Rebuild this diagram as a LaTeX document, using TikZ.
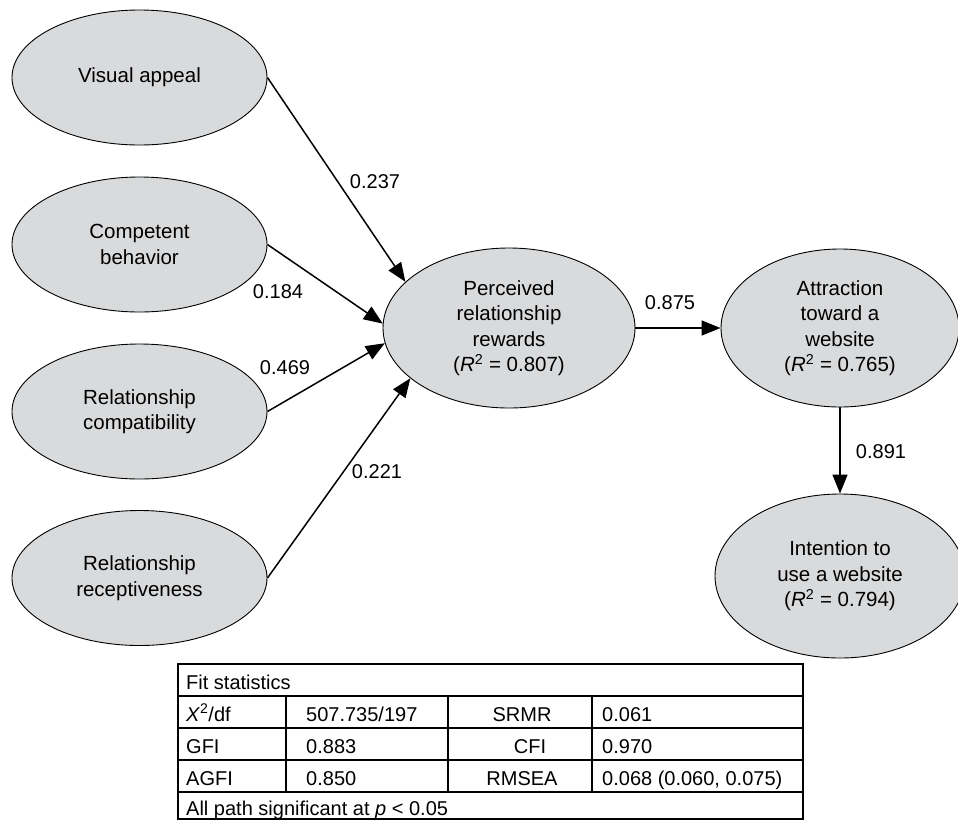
\documentclass[tikz,border=0pt]{standalone}
\usepackage{fontspec}
\setmainfont{Liberation Sans}
\usetikzlibrary{shapes.geometric,arrows.meta}
\definecolor{ellfill}{RGB}{217,218,220}
\begin{document}
\begin{tikzpicture}[x=1pt,y=-1pt,
  lat/.style={ellipse, draw=black, line width=0.9pt, fill=ellfill, inner sep=0pt, align=center,
    font=\fontsize{20.5}{25.5}\selectfont},
  arr/.style={line width=1.5pt, -{Triangle[length=19pt,width=15pt]}},
  lbl/.style={font=\fontsize{20}{25}\selectfont, inner sep=0pt},
  cell/.style={font=\fontsize{20}{23}\selectfont, inner sep=0pt, anchor=base west},
  cellc/.style={font=\fontsize{20}{23}\selectfont, inner sep=0pt, anchor=base},
  tline/.style={line width=1.8pt}
  ]
\useasboundingbox (0,0) rectangle (958,820);

% latent variables
\node[lat, minimum width=255pt, minimum height=135pt] (va) at (139.5,77.5) {Visual appeal};
\node[lat, minimum width=255pt, minimum height=135pt] (cb) at (139.5,244.5) {Competent\\behavior};
\node[lat, minimum width=255pt, minimum height=135pt] (rc) at (139.5,411.5) {Relationship\\compatibility};
\node[lat, minimum width=255pt, minimum height=135pt] (rr) at (139.5,578) {Relationship\\receptiveness};
\node[lat, minimum width=252pt, minimum height=160pt] (prr) at (509,328) {Perceived\\relationship\\rewards\\(\textit{R}\textsuperscript{2} = 0.807)};
\node[lat, minimum width=238pt, minimum height=158pt] (att) at (840,328) {Attraction\\toward a\\website\\(\textit{R}\textsuperscript{2} = 0.765)};
\node[lat, minimum width=250pt, minimum height=164pt] (int) at (840,576) {Intention to\\use a website\\(\textit{R}\textsuperscript{2} = 0.794)};

% paths
\draw[arr] (va.east) -- (prr.156);
\draw[arr] (cb.east) -- (prr.178);
\draw[arr] (rc.east) -- (prr.187);
\draw[arr] (rr.east) -- (prr.207);
\draw[arr] (prr.east) -- (att.west);
\draw[arr] (att.south) -- (int.north);

% path labels
\node[lbl] (l1) at (375,182) {0.237};
\node[lbl] (l2) at (278,292) {0.184};
\node[lbl] (l3) at (285,368) {0.469};
\node[lbl] (l4) at (377,472) {0.221};
\node[lbl] (l5) at (670,303) {0.875};
\node[lbl] (l6) at (881,452) {0.891};

% fit statistics table
\draw[tline] (178,664) rectangle (803,819);
\draw[tline] (178,696) -- (803,696);
\draw[tline] (178,728) -- (803,728);
\draw[tline] (178,760) -- (803,760);
\draw[tline] (178,792) -- (803,792);
\draw[tline] (286,696) -- (286,792);
\draw[tline] (448,696) -- (448,792);
\draw[tline] (592,696) -- (592,792);

\node[cell] (t0) at (186,689) {Fit statistics};
\node[cell] (t1a) at (186,721) {\textit{X}\textsuperscript{2}/df};
\node[cell] (t1b) at (306,721) {507.735/197};
\node[cellc] (t1c) at (522,721) {SRMR};
\node[cell] (t1d) at (602,721) {0.061};
\node[cell] (t2a) at (186,753) {GFI};
\node[cell] (t2b) at (306,753) {0.883};
\node[cellc] (t2c) at (530,753) {CFI};
\node[cell] (t2d) at (602,753) {0.970};
\node[cell] (t3a) at (186,785) {AGFI};
\node[cell] (t3b) at (306,785) {0.850};
\node[cellc] (t3c) at (522,785) {RMSEA};
\node[cell] (t3d) at (602,785) {0.068 (0.060, 0.075)};
\node[cell] (t4) at (186,815) {All path significant at \textit{p} < 0.05};
\end{tikzpicture}
\end{document}
